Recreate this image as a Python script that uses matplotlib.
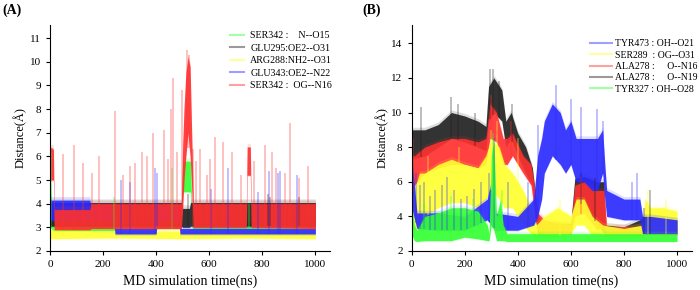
import numpy as np
import matplotlib
matplotlib.use('Agg')
import matplotlib.pyplot as plt
from matplotlib.lines import Line2D

plt.rcParams['font.family'] = ['Liberation Serif', 'DejaVu Serif']

# ---------------- panel (A) ----------------
# each series: time points (ns), lower and upper edge of the dense band (A)
ga_t  = [0, 8, 12, 100, 200, 240, 250, 400, 495, 500, 530, 536, 600, 800, 1000]
ga_lo = [3.0, 2.9, 2.85, 2.85, 2.85, 2.85, 2.95, 2.95, 2.95, 4.5, 4.5, 2.95, 2.95, 2.95, 2.95]
ga_hi = [5.5, 3.3, 3.1, 3.1, 3.1, 3.15, 3.2, 3.2, 3.2, 5.8, 5.8, 3.2, 3.2, 3.2, 3.2]

ka_t  = [0, 495, 500, 525, 530, 1000]
ka_lo = [3.05, 3.05, 3.0, 3.0, 3.05, 3.05]
ka_hi = [4.05, 4.05, 3.8, 3.8, 4.05, 4.05]

ya_t  = [0, 250, 500, 750, 1000]
ya_lo = [2.52, 2.55, 2.52, 2.55, 2.52]
ya_hi = [2.88, 2.85, 2.85, 2.85, 2.85]

ba_t  = [0, 150, 155, 240, 245, 400, 405, 485, 490, 1000]
ba_lo = [3.3, 3.3, 3.3, 3.3, 2.72, 2.72, 3.3, 3.3, 2.72, 2.72]
ba_hi = [4.15, 4.15, 3.9, 3.9, 2.95, 2.95, 3.9, 3.9, 2.95, 2.95]

ra_t  = [0, 3, 13, 16, 150, 155, 495, 500, 505, 512, 520, 528, 535, 540, 740, 743, 755, 758, 1000]
ra_lo = [4.8, 5.0, 5.0, 2.9, 2.9, 2.95, 2.95, 3.8, 5.0, 6.0, 7.0, 6.0, 4.5, 3.0, 3.0, 5.2, 5.2, 3.0, 2.95]
ra_hi = [6.0, 6.4, 6.3, 3.75, 3.75, 4.0, 4.0, 6.5, 8.0, 9.5, 10.2, 9.8, 6.5, 4.0, 4.0, 6.4, 6.4, 4.0, 4.0]

# isolated excursions (time, top value)
ga_sp = [(2, 6.2), (243, 4.3), (460, 5.5), (748, 4.0)]
ka_sp = [(520, 4.4), (820, 4.4), (830, 4.3), (940, 4.3)]
ya_sp = []
ba_sp = [(1, 9.4), (268, 5.0), (300, 4.9), (395, 5.5), (403, 5.3), (605, 4.6),
         (670, 5.5), (785, 4.5), (825, 5.4), (860, 5.3), (868, 5.4), (930, 5.2)]
ra_sp = [(50, 6.1), (90, 6.5), (126, 5.7), (160, 5.3), (184, 6.0), (244, 7.9),
         (277, 5.2), (300, 5.6), (320, 5.7), (346, 6.2), (365, 6.0), (390, 7.0),
         (428, 7.1), (445, 5.9), (455, 8.0), (465, 9.3), (480, 6.2), (498, 8.8),
         (515, 10.5), (525, 10.3), (540, 6.3), (552, 5.8), (566, 6.3), (590, 5.2),
         (604, 5.9), (623, 6.8), (653, 6.6), (687, 6.2), (720, 5.2), (770, 5.8),
         (811, 6.5), (838, 6.2), (850, 5.5), (887, 5.3), (906, 7.4), (940, 5.1), (973, 5.6)]

labels_a = ['SER342 :    N--O15', 'GLU295:OE2--O31', 'ARG288:NH2--O31',
            'GLU343:OE2--N22', 'SER342 :  OG--N16']

# ---------------- panel (B) ----------------
kb_t  = [0, 50, 100, 150, 200, 250, 280, 290, 310, 340, 355, 375, 400, 430, 455, 465, 475, 500,
         600, 615, 650, 700, 725, 730, 800, 860, 880, 1000]
kb_lo = [7.3, 7.5, 8.0, 8.5, 8.3, 8.0, 7.8, 9.5, 10.0, 9.5, 8.0, 8.5, 7.5, 6.5, 5.8, 4.0, 3.0, 2.9,
         3.0, 4.5, 4.8, 3.5, 3.0, 2.9, 2.9, 2.9, 3.0, 3.0]
kb_hi = [9.0, 9.0, 9.3, 10.0, 9.8, 9.5, 9.2, 11.5, 12.0, 11.3, 9.5, 10.0, 8.8, 8.0, 6.8, 5.5, 4.0, 3.6,
         3.6, 6.2, 6.3, 6.0, 6.0, 3.5, 3.4, 3.8, 4.0, 3.8]

rb_t  = [0, 10, 50, 100, 150, 200, 250, 280, 295, 320, 345, 360, 380, 420, 450, 465, 475, 500,
         600, 615, 650, 700, 725, 735, 1000]
rb_lo = [5.0, 5.8, 6.5, 6.8, 7.0, 7.0, 6.8, 7.0, 8.5, 8.3, 7.0, 7.0, 7.5, 6.5, 5.8, 4.0, 3.2, 3.0,
         3.0, 4.0, 4.2, 3.2, 3.5, 2.95, 2.95]
rb_hi = [7.5, 7.5, 8.0, 8.3, 8.5, 8.5, 8.3, 8.5, 10.5, 10.0, 8.5, 8.5, 8.8, 7.5, 7.0, 5.5, 4.2, 3.8,
         3.5, 5.8, 6.0, 5.5, 5.5, 3.4, 3.4]

yb_t  = [0, 30, 50, 100, 150, 200, 250, 280, 300, 330, 350, 380, 400, 420, 450, 470, 500, 550,
         600, 620, 650, 680, 720, 800, 870, 880, 900, 950, 1000]
yb_lo = [3.0, 3.5, 4.0, 4.5, 4.8, 4.8, 4.5, 5.0, 5.5, 5.0, 4.5, 4.5, 4.0, 3.5, 3.0, 2.8, 2.8, 2.8,
         3.0, 3.5, 3.5, 2.9, 2.8, 2.8, 2.8, 3.0, 3.0, 3.0, 3.0]
yb_hi = [5.0, 6.5, 6.5, 7.0, 7.3, 7.0, 6.8, 7.5, 8.5, 8.0, 7.0, 6.5, 6.0, 5.5, 4.5, 3.5, 4.0, 4.5,
         4.0, 5.0, 5.0, 4.0, 3.5, 3.3, 3.5, 5.0, 4.5, 4.5, 4.3]

bb_t  = [0, 20, 100, 200, 285, 300, 315, 400, 460, 475, 490, 500, 530, 560, 580, 600, 620, 650,
         680, 700, 720, 728, 735, 800, 860, 870, 900, 1000]
bb_lo = [4.5, 3.3, 3.2, 3.2, 3.8, 3.5, 3.2, 3.2, 3.5, 4.0, 5.0, 6.5, 7.5, 7.0, 6.5, 7.0, 6.0, 6.0,
         5.5, 5.5, 6.5, 5.0, 4.0, 3.8, 3.8, 3.0, 3.0, 3.0]
bb_hi = [7.5, 4.2, 4.2, 4.0, 5.0, 6.0, 4.2, 4.0, 5.0, 7.5, 8.5, 9.5, 10.5, 10.0, 9.0, 9.5, 8.5, 8.5,
         8.5, 8.5, 9.0, 7.0, 5.5, 5.0, 5.0, 4.0, 4.0, 3.8]

gb_t  = [0, 10, 20, 50, 100, 150, 200, 250, 285, 292, 300, 310, 320, 335, 345, 360, 400, 1000]
gb_lo = [3.0, 2.6, 2.55, 2.6, 2.6, 2.6, 2.8, 2.7, 2.6, 2.6, 3.5, 3.2, 2.6, 2.6, 2.6, 2.55, 2.55, 2.55]
gb_hi = [4.8, 3.5, 3.2, 4.0, 4.2, 4.5, 4.5, 4.3, 3.5, 3.0, 7.5, 8.3, 4.0, 5.0, 3.5, 3.0, 3.0, 3.0]

kb_sp = [(37, 10.3), (150, 10.9), (175, 10.5), (240, 10.0), (295, 12.5), (305, 12.5),
         (330, 11.8), (380, 10.5), (640, 6.5), (690, 6.2), (875, 4.5), (900, 5.5)]
rb_sp = [(5, 8.5), (300, 11.0), (375, 9.5), (640, 6.3)]
yb_sp = [(60, 7.5), (180, 8.0), (300, 9.0), (320, 9.5), (400, 8.5), (560, 5.0), (890, 5.5), (960, 5.0)]
bb_sp = [(3, 9.0), (15, 6.5), (30, 5.8), (45, 6.0), (70, 5.2), (90, 5.5), (115, 5.8), (135, 6.3),
         (160, 5.5), (185, 5.0), (210, 5.2), (235, 5.6), (260, 6.0), (290, 6.5), (310, 8.5),
         (365, 6.0), (440, 6.0), (478, 9.3), (545, 11.6), (600, 10.8), (640, 10.3), (700, 10.2),
         (720, 9.5), (850, 6.5), (830, 6.0)]
gb_sp = [(45, 4.8), (150, 5.2), (230, 5.0), (305, 8.8), (340, 5.5)]

labels_b = ['TYR473 : OH--O21', 'SER289  : OG--O31', 'ALA278 :     O--N16',
            'ALA278 :     O--N19', 'TYR327 : OH--O28']

RED = '#ff3030'
BLUE = '#2a2aff'
GREEN = '#33ff33'
YELLOW = '#ffff30'
BLACK = '#202020'


def desenha_serie(ax, t, lo, hi, spikes, cor):
    t = np.array(t, dtype=float)
    lo = np.array(lo)
    hi = np.array(hi)
    ax.fill_between(t, lo - 0.05, hi + 0.15, color=cor, alpha=0.15, lw=0)
    ax.fill_between(t, lo, hi, color=cor, alpha=0.9, lw=0)
    if spikes:
        st = np.array([s[0] for s in spikes], dtype=float)
        sv = np.array([s[1] for s in spikes])
        base = np.interp(st, t, lo)
        ax.vlines(st, base, sv, color=cor, alpha=0.35, lw=1.2)


def arruma_eixo(ax, ymax, yticks):
    ax.set_xlim(0, 1055)
    ax.set_ylim(2, ymax)
    ax.set_xticks([0, 200, 400, 600, 800, 1000])
    ax.set_yticks(yticks)
    ax.spines['top'].set_visible(False)
    ax.spines['right'].set_visible(False)
    ax.tick_params(direction='out', length=3, labelsize=8)
    ax.set_xlabel('MD simulation time(ns)', fontsize=10)
    ax.set_ylabel('Distance(Å)', fontsize=9, labelpad=2)


fig = plt.figure(figsize=(7, 2.9), dpi=100)
axA = fig.add_axes([0.0714, 0.1345, 0.4, 0.779])
axB = fig.add_axes([0.588, 0.1345, 0.4, 0.779])

# (A) draw order follows the legend: green, black, yellow, blue, red
series_a = [(ga_t, ga_lo, ga_hi, ga_sp, GREEN), (ka_t, ka_lo, ka_hi, ka_sp, BLACK),
            (ya_t, ya_lo, ya_hi, ya_sp, YELLOW), (ba_t, ba_lo, ba_hi, ba_sp, BLUE),
            (ra_t, ra_lo, ra_hi, ra_sp, RED)]
for t, lo, hi, sp, c in series_a:
    desenha_serie(axA, t, lo, hi, sp, c)
arruma_eixo(axA, 11.55, range(2, 12))
hA = [Line2D([], [], color=c, alpha=0.45, lw=1.5) for c in [GREEN, BLACK, YELLOW, BLUE, RED]]
axA.legend(hA, labels_a, loc='upper left', bbox_to_anchor=(0.63, 0.99), frameon=False,
           fontsize=7.2, handlelength=1.4, handletextpad=0.6, labelspacing=0.35, borderaxespad=0)

# (B) black and red underneath, then yellow, blue, green on top
series_b = [(kb_t, kb_lo, kb_hi, kb_sp, BLACK), (rb_t, rb_lo, rb_hi, rb_sp, RED),
            (yb_t, yb_lo, yb_hi, yb_sp, YELLOW), (bb_t, bb_lo, bb_hi, bb_sp, BLUE),
            (gb_t, gb_lo, gb_hi, gb_sp, GREEN)]
for t, lo, hi, sp, c in series_b:
    desenha_serie(axB, t, lo, hi, sp, c)
arruma_eixo(axB, 15.05, range(2, 15, 2))
hB = [Line2D([], [], color=c, alpha=0.45, lw=1.5) for c in [BLUE, YELLOW, RED, BLACK, GREEN]]
axB.legend(hB, labels_b, loc='upper left', bbox_to_anchor=(0.625, 0.955), frameon=False,
           fontsize=7, handlelength=2.2, handletextpad=0.3, labelspacing=0.25, borderaxespad=0)

fig.text(0.004, 0.965, '(A)', fontsize=10, fontweight='bold', va='center')
fig.text(0.517, 0.965, '(B)', fontsize=10, fontweight='bold', va='center')

fig.savefig('out.png', dpi=100)
